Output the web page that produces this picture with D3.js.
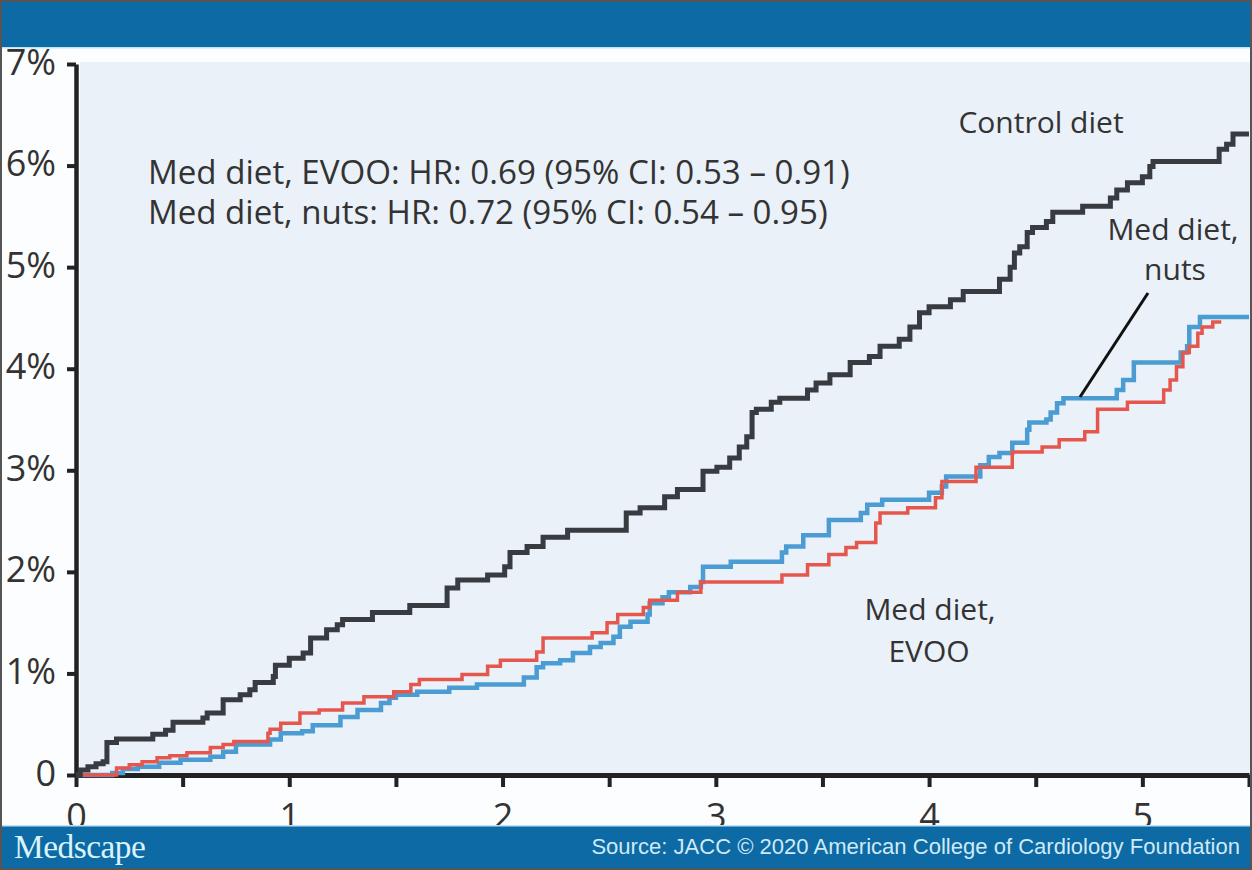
<!DOCTYPE html>
<html>
<head>
<meta charset="utf-8">
<script src="https://cdn.jsdelivr.net/npm/d3@7"></script>
<style>
  body { margin: 0; background: #fff; }
  svg { display: block; }
</style>
</head>
<body>
<div id="chart"></div>
<script>
// cumulative incidence, [years, %]
const controlDiet = [
  [0, 0], [0.02, 0.05], [0.056, 0.08], [0.094, 0.11], [0.127, 0.13], [0.145, 0.32], [0.19, 0.355],
  [0.36, 0.40], [0.42, 0.44], [0.455, 0.52], [0.595, 0.56], [0.615, 0.61], [0.69, 0.74], [0.77, 0.79],
  [0.815, 0.84], [0.84, 0.91], [0.925, 0.97], [0.935, 1.08], [1.0, 1.15], [1.065, 1.20], [1.10, 1.35],
  [1.175, 1.43], [1.225, 1.48], [1.25, 1.53], [1.39, 1.60], [1.565, 1.67], [1.74, 1.84], [1.79, 1.92],
  [1.93, 1.97], [2.01, 2.05], [2.035, 2.19], [2.115, 2.25], [2.19, 2.34], [2.305, 2.41], [2.58, 2.58],
  [2.645, 2.63], [2.76, 2.74], [2.82, 2.81], [2.94, 2.99], [3.005, 3.03], [3.065, 3.12], [3.11, 3.23],
  [3.145, 3.33], [3.17, 3.57], [3.19, 3.60], [3.26, 3.67], [3.30, 3.71], [3.43, 3.79], [3.47, 3.86],
  [3.535, 3.94], [3.63, 4.06], [3.72, 4.12], [3.77, 4.22], [3.86, 4.29], [3.91, 4.41], [3.955, 4.55],
  [4.00, 4.61], [4.10, 4.68], [4.16, 4.76], [4.33, 4.88], [4.38, 5.00], [4.40, 5.14], [4.425, 5.20],
  [4.46, 5.34], [4.485, 5.39], [4.55, 5.45], [4.58, 5.54], [4.72, 5.60], [4.85, 5.68], [4.88, 5.76],
  [4.93, 5.83], [5.00, 5.89], [5.035, 5.99], [5.05, 6.04], [5.36, 6.16], [5.395, 6.21], [5.425, 6.31],
  [5.5, 6.31]
];
const medEvoo = [
  [0, 0], [0.19, 0.07], [0.25, 0.10], [0.31, 0.13], [0.38, 0.17], [0.44, 0.19], [0.52, 0.22],
  [0.63, 0.27], [0.69, 0.30], [0.74, 0.33], [0.90, 0.41], [0.91, 0.45], [0.96, 0.51], [1.05, 0.61],
  [1.14, 0.64], [1.25, 0.71], [1.35, 0.77], [1.49, 0.82], [1.57, 0.89], [1.61, 0.94], [1.81, 0.99],
  [1.93, 1.07], [1.99, 1.13], [2.16, 1.21], [2.19, 1.35], [2.42, 1.40], [2.49, 1.50], [2.54, 1.58],
  [2.66, 1.65], [2.69, 1.72], [2.82, 1.80], [2.93, 1.90], [3.31, 1.97], [3.43, 2.07], [3.53, 2.17],
  [3.61, 2.24], [3.66, 2.29], [3.75, 2.48], [3.77, 2.58], [3.90, 2.63], [4.03, 2.73], [4.06, 2.89],
  [4.22, 3.03], [4.39, 3.18], [4.53, 3.23], [4.61, 3.30], [4.73, 3.38], [4.79, 3.60], [4.93, 3.67],
  [5.10, 3.79], [5.13, 3.89], [5.16, 4.02], [5.19, 4.16], [5.22, 4.22], [5.26, 4.35], [5.28, 4.41],
  [5.33, 4.46], [5.37, 4.46]
];
const medNuts = [
  [0, 0], [0.17, 0.02], [0.22, 0.06], [0.29, 0.08], [0.39, 0.12], [0.49, 0.15], [0.63, 0.18],
  [0.69, 0.23], [0.75, 0.30], [0.91, 0.35], [0.96, 0.41], [1.06, 0.43], [1.11, 0.49], [1.24, 0.57],
  [1.32, 0.64], [1.43, 0.71], [1.47, 0.76], [1.50, 0.79], [1.60, 0.82], [1.75, 0.86], [1.88, 0.89],
  [2.10, 0.96], [2.16, 1.06], [2.19, 1.10], [2.27, 1.13], [2.33, 1.20], [2.41, 1.26], [2.46, 1.30],
  [2.52, 1.36], [2.55, 1.46], [2.60, 1.51], [2.68, 1.58], [2.69, 1.69], [2.75, 1.75], [2.78, 1.80],
  [2.88, 1.85], [2.93, 1.90], [2.94, 2.05], [3.07, 2.10], [3.31, 2.19], [3.33, 2.25], [3.41, 2.36],
  [3.53, 2.51], [3.68, 2.58], [3.71, 2.66], [3.78, 2.71], [4.00, 2.78], [4.06, 2.84], [4.08, 2.94],
  [4.24, 3.05], [4.28, 3.13], [4.33, 3.17], [4.39, 3.27], [4.46, 3.40], [4.47, 3.47], [4.55, 3.50],
  [4.57, 3.57], [4.60, 3.66], [4.63, 3.71], [4.88, 3.79], [4.91, 3.89], [4.96, 4.06], [5.18, 4.16],
  [5.21, 4.22], [5.22, 4.41], [5.27, 4.51], [5.5, 4.51]
];
const yTicks = [0, 1, 2, 3, 4, 5, 6, 7];
const xTicks = [0, 0.5, 1, 1.5, 2, 2.5, 3, 3.5, 4, 4.5, 5, 5.5];
const hrLines = [
  "Med diet, EVOO: HR: 0.69 (95% CI: 0.53 \u2013 0.91)",
  "Med diet, nuts: HR: 0.72 (95% CI: 0.54 \u2013 0.95)"
];

const W = 1252, H = 870;
const blue = "#0d6aa4";
const font = "'Open Sans', 'Noto Sans', sans-serif";

const svg = d3.select("#chart").append("svg")
  .attr("width", W).attr("height", H);

svg.append("rect").attr("width", W).attr("height", H).attr("fill", "#fcfdfe");

const x = d3.scaleLinear().domain([0, 5.5]).range([76, 1249]);
const y = d3.scaleLinear().domain([0, 7]).range([775, 64]);

// plot background
svg.append("rect")
  .attr("x", 80).attr("y", 62)
  .attr("width", W - 80).attr("height", 713)
  .attr("fill", "#eaf1f9");

// axes
const yAxis = svg.append("g")
  .attr("transform", "translate(76,0)")
  .call(d3.axisLeft(y).tickValues(yTicks).tickSize(9).tickSizeOuter(0).tickPadding(12)
    .tickFormat(d => d === 0 ? "0" : d + "%"));
yAxis.select(".domain").attr("stroke", "#222").attr("stroke-width", 4.5);
yAxis.selectAll(".tick line").attr("stroke", "#222").attr("stroke-width", 4);
yAxis.selectAll(".tick text")
  .attr("font-family", font).attr("font-size", 36).attr("fill", "#333")
  .attr("x", -20).attr("dy", 10);

const xAxis = svg.append("g")
  .attr("transform", "translate(0,775)")
  .call(d3.axisBottom(x).tickValues(xTicks).tickSize(12).tickSizeOuter(0)
    .tickFormat(d => Number.isInteger(d) ? d : ""));
xAxis.select(".domain").attr("stroke", "#222").attr("stroke-width", 5);
xAxis.selectAll(".tick line").attr("stroke", "#222").attr("stroke-width", 4);
xAxis.selectAll(".tick text")
  .attr("font-family", font).attr("font-size", 36).attr("fill", "#333")
  .attr("y", 54).attr("dy", 0);

// curves
const line = d3.line()
  .x(d => x(d[0]))
  .y(d => y(d[1]))
  .curve(d3.curveStepAfter);

svg.append("path").datum(medNuts)
  .attr("d", line).attr("fill", "none")
  .attr("stroke", "#4b9cd2").attr("stroke-width", 4.5);
svg.append("path").datum(medEvoo)
  .attr("d", line).attr("fill", "none")
  .attr("stroke", "#e5574d").attr("stroke-width", 3.5);
svg.append("path").datum(controlDiet)
  .attr("d", line).attr("fill", "none")
  .attr("stroke", "#383b40").attr("stroke-width", 5);

// size a text to the width it has in the original
function fit(sel, width) {
  const w = sel.node().getComputedTextLength();
  sel.attr("font-size", +sel.attr("font-size") * width / w);
  return sel;
}
const hr = svg.append("g").attr("font-family", font).attr("fill", "#333");
fit(hr.append("text").attr("x", 148).attr("y", 184).attr("font-size", 28).text(hrLines[0]), 702);
fit(hr.append("text").attr("x", 148).attr("y", 224).attr("font-size", 28).text(hrLines[1]), 680);

// series labels
const lab = svg.append("g").attr("font-family", font).attr("font-size", 30)
  .attr("fill", "#333").attr("text-anchor", "middle");
lab.append("text").attr("x", 1041).attr("y", 133).text("Control diet");
lab.append("text").attr("x", 1173).attr("y", 240).text("Med diet,");
lab.append("text").attr("x", 1175).attr("y", 280).text("nuts");
lab.append("text").attr("x", 930).attr("y", 620).text("Med diet,");
lab.append("text").attr("x", 929).attr("y", 662).text("EVOO");

svg.append("line")
  .attr("x1", 1080).attr("y1", 397).attr("x2", 1148).attr("y2", 293)
  .attr("stroke", "#111").attr("stroke-width", 3);

// banners
svg.append("rect").attr("width", W).attr("height", 47).attr("fill", blue);
svg.append("rect").attr("y", 47).attr("width", W).attr("height", 1.5).attr("fill", "#bfe3f2");
svg.append("rect").attr("y", 826).attr("width", W).attr("height", H - 826).attr("fill", blue);
svg.append("rect").attr("y", 825).attr("width", W).attr("height", 1.5).attr("fill", "#bfe3f2");

fit(svg.append("text")
  .attr("x", 14).attr("y", 858)
  .attr("font-family", "'Liberation Serif', 'DejaVu Serif', serif")
  .attr("font-size", 31).attr("letter-spacing", -0.5)
  .attr("fill", "#d9f3fb")
  .text("Medscape"), 131);

fit(svg.append("text")
  .attr("x", 1240).attr("y", 854)
  .attr("text-anchor", "end")
  .attr("font-family", "'Liberation Sans', Arial, sans-serif")
  .attr("font-size", 18.5)
  .attr("fill", "#cfe9f6")
  .text("Source: JACC \u00a9 2020 American College of Cardiology Foundation"), 649);

// frame
svg.append("rect")
  .attr("x", 1).attr("y", 1).attr("width", W - 2).attr("height", H - 2)
  .attr("fill", "none").attr("stroke", "#555").attr("stroke-width", 2);
</script>
</body>
</html>
